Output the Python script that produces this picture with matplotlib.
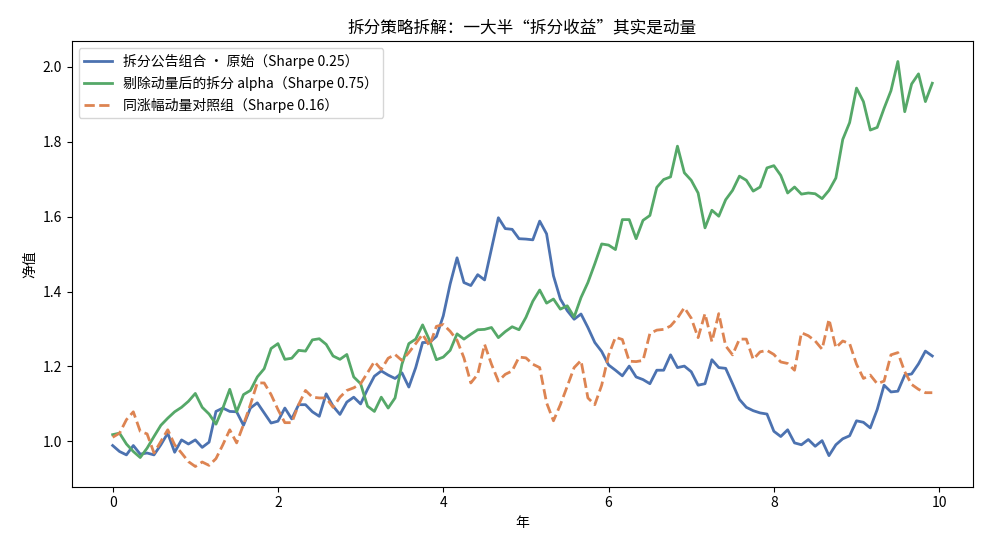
import numpy as np
import matplotlib
matplotlib.use("Agg")
import matplotlib.pyplot as plt

plt.rcParams['font.family'] = ['Noto Sans CJK SC', 'DejaVu Sans']
plt.rcParams['axes.unicode_minus'] = False

months = np.arange(120)
years = months / 12.0

raw_split = [
    0.989, 0.973, 0.964, 0.989, 0.966, 0.969, 0.964, 0.991, 1.022, 0.971,
    1.004, 0.993, 1.004, 0.984, 0.998, 1.080, 1.089, 1.080, 1.079, 1.043,
    1.089, 1.103, 1.076, 1.049, 1.054, 1.089, 1.060, 1.098, 1.098, 1.079,
    1.067, 1.127, 1.094, 1.072, 1.105, 1.118, 1.100, 1.139, 1.174, 1.188,
    1.177, 1.168, 1.183, 1.145, 1.197, 1.264, 1.264, 1.280, 1.335, 1.420,
    1.490, 1.424, 1.416, 1.445, 1.431, 1.514, 1.597, 1.568, 1.566, 1.541,
    1.540, 1.538, 1.588, 1.554, 1.442, 1.380, 1.349, 1.326, 1.340, 1.304,
    1.264, 1.240, 1.204, 1.190, 1.175, 1.201, 1.172, 1.165, 1.154, 1.190,
    1.190, 1.231, 1.197, 1.201, 1.186, 1.150, 1.154, 1.218, 1.197, 1.195,
    1.154, 1.112, 1.091, 1.082, 1.076, 1.073, 1.027, 1.013, 1.031, 0.996,
    0.991, 1.005, 0.987, 1.002, 0.962, 0.991, 1.007, 1.015, 1.055, 1.051,
    1.036, 1.085, 1.150, 1.132, 1.134, 1.177, 1.180, 1.207, 1.241, 1.228,
]

alpha_split = [
    1.018, 1.022, 0.993, 0.973, 0.957, 0.982, 1.013, 1.043, 1.062, 1.079,
    1.091, 1.107, 1.128, 1.091, 1.073, 1.046, 1.089, 1.139, 1.079, 1.125,
    1.136, 1.172, 1.194, 1.248, 1.261, 1.219, 1.222, 1.243, 1.241, 1.271,
    1.274, 1.259, 1.228, 1.219, 1.232, 1.172, 1.154, 1.094, 1.080, 1.118,
    1.089, 1.116, 1.206, 1.261, 1.273, 1.311, 1.270, 1.218, 1.225, 1.243,
    1.287, 1.273, 1.286, 1.298, 1.299, 1.304, 1.277, 1.293, 1.306, 1.298,
    1.331, 1.374, 1.404, 1.369, 1.380, 1.353, 1.362, 1.332, 1.384, 1.424,
    1.474, 1.527, 1.524, 1.512, 1.592, 1.592, 1.541, 1.590, 1.603, 1.678,
    1.699, 1.706, 1.788, 1.717, 1.697, 1.663, 1.570, 1.617, 1.601, 1.645,
    1.670, 1.708, 1.697, 1.668, 1.679, 1.730, 1.736, 1.710, 1.663, 1.679,
    1.660, 1.663, 1.661, 1.648, 1.670, 1.703, 1.806, 1.851, 1.943, 1.907,
    1.831, 1.838, 1.889, 1.936, 2.014, 1.880, 1.954, 1.981, 1.907, 1.956,
]

momentum_ctrl = [
    1.011, 1.022, 1.058, 1.079, 1.027, 1.020, 0.969, 1.000, 1.031, 0.991,
    0.969, 0.946, 0.933, 0.945, 0.936, 0.954, 0.991, 1.031, 0.996, 1.045,
    1.098, 1.156, 1.156, 1.125, 1.085, 1.050, 1.050, 1.098, 1.136, 1.118,
    1.116, 1.116, 1.091, 1.118, 1.136, 1.143, 1.154, 1.183, 1.213, 1.192,
    1.222, 1.232, 1.216, 1.237, 1.261, 1.286, 1.255, 1.307, 1.312, 1.294,
    1.270, 1.223, 1.156, 1.179, 1.259, 1.206, 1.161, 1.179, 1.188, 1.225,
    1.223, 1.206, 1.197, 1.103, 1.055, 1.098, 1.147, 1.197, 1.216, 1.116,
    1.098, 1.150, 1.230, 1.278, 1.272, 1.214, 1.213, 1.216, 1.288, 1.297,
    1.299, 1.308, 1.329, 1.357, 1.329, 1.277, 1.341, 1.266, 1.341, 1.255,
    1.231, 1.273, 1.273, 1.219, 1.239, 1.243, 1.232, 1.212, 1.208, 1.190,
    1.290, 1.282, 1.268, 1.246, 1.326, 1.250, 1.268, 1.261, 1.206, 1.168,
    1.177, 1.154, 1.161, 1.231, 1.237, 1.186, 1.152, 1.139, 1.130, 1.130,
]

labels = [
    "拆分公告组合 · 原始（Sharpe 0.25）",
    "剔除动量后的拆分 alpha（Sharpe 0.75）",
    "同涨幅动量对照组（Sharpe 0.16）",
]
title = "拆分策略拆解：一大半“拆分收益”其实是动量"

fig = plt.figure(figsize=(9.9, 5.5), dpi=100)
ax = fig.add_axes([0.0724, 0.115, 0.9107, 0.810])

ax.plot(years, raw_split, color="#4C72B0", lw=2.0, label=labels[0])
ax.plot(years, alpha_split, color="#55A868", lw=2.0, label=labels[1])
ax.plot(years, momentum_ctrl, color="#DD8452", lw=2.0, ls="--", label=labels[2])

ax.set_title(title, fontsize=12)
ax.set_xlabel("年", fontsize=10)
ax.set_ylabel("净值", fontsize=10)
ax.set_xticks([0, 2, 4, 6, 8, 10])
ax.set_yticks([1.0, 1.2, 1.4, 1.6, 1.8, 2.0])
ax.yaxis.set_major_formatter(matplotlib.ticker.FormatStrFormatter('%.1f'))
ax.tick_params(labelsize=10)
ax.legend(loc="upper left", fontsize=10)

fig.savefig("out.png", dpi=100)
